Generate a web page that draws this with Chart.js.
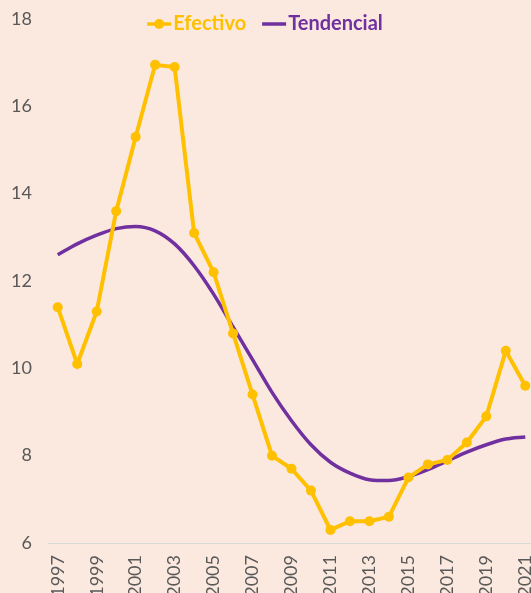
<!DOCTYPE html>
<html>
<head>
<meta charset="utf-8">
<script src="https://cdn.jsdelivr.net/npm/chart.js@4/dist/chart.umd.min.js"></script>
<style>
  html, body { margin: 0; padding: 0; background: #FBE8DE; overflow: hidden; }
  #wrap { position: absolute; left: 0; top: 0; }
</style>
</head>
<body>
<div id="wrap"><canvas id="chart" width="540" height="603"></canvas></div>
<script>
const years = ['1997', '1998', '1999', '2000', '2001', '2002', '2003', '2004', '2005', '2006',
    '2007', '2008', '2009', '2010', '2011', '2012', '2013', '2014', '2015', '2016',
    '2017', '2018', '2019', '2020', '2021'];
const efectivo = [11.4, 10.1, 11.3, 13.6, 15.3, 16.95, 16.9, 13.1, 12.2, 10.8,
    9.4, 8.0, 7.7, 7.2, 6.3, 6.5, 6.5, 6.6, 7.5, 7.8,
    7.9, 8.3, 8.9, 10.4, 9.6];
const tendencial = [12.6, 12.85, 13.05, 13.2, 13.25, 13.15, 12.85, 12.35, 11.7, 10.95,
    10.2, 9.45, 8.8, 8.25, 7.85, 7.6, 7.45, 7.43, 7.52, 7.68,
    7.88, 8.08, 8.25, 8.38, 8.43];

const yellow = '#FFC000';
const purple = '#7030A0';
const tickColor = '#595959';

// legend drawn by hand inside the plot area, like the Excel original
const legendInside = {
    id: 'legendInside',
    afterDraw(chart) {
        const c = chart.ctx;
        const items = chart.data.datasets.map((ds, i) => ({ text: ds.label, color: ds.borderColor, dot: i === 0 }));
        c.save();
        c.font = 'bold 20px Lato';
        c.textBaseline = 'middle';
        const symW = 24, gapSym = 2, gapItem = 16;
        let total = 0;
        items.forEach((it, i) => {
            it.w = c.measureText(it.text).width;
            total += symW + gapSym + it.w + (i > 0 ? gapItem : 0);
        });
        let x = 265 - total / 2;
        const y = 24;
        items.forEach((it, i) => {
            if (i > 0) x += gapItem;
            c.strokeStyle = it.color;
            c.fillStyle = it.color;
            c.lineWidth = 3.5;
            c.beginPath();
            c.moveTo(x, y);
            c.lineTo(x + symW, y);
            c.stroke();
            if (it.dot) {
                c.beginPath();
                c.arc(x + symW / 2, y, 5, 0, Math.PI * 2);
                c.fill();
            }
            x += symW + gapSym;
            c.fillText(it.text, x, y);
            x += it.w;
        });
        c.restore();
    }
};

const ctx = document.getElementById('chart').getContext('2d');
new Chart(ctx, {
    type: 'line',
    data: {
        labels: years,
        datasets: [{
            label: 'Efectivo',
            data: efectivo,
            borderColor: yellow,
            backgroundColor: yellow,
            borderWidth: 4,
            pointRadius: 5,
            pointHoverRadius: 5,
            pointBackgroundColor: yellow,
            pointBorderWidth: 0,
            tension: 0
        }, {
            label: 'Tendencial',
            data: tendencial,
            borderColor: purple,
            backgroundColor: purple,
            borderWidth: 3.5,
            pointRadius: 0,
            cubicInterpolationMode: 'monotone'
        }]
    },
    options: {
        responsive: false,
        animation: false,
        layout: {
            padding: { left: 0, right: 3, top: 19, bottom: 0 }
        },
        scales: {
            x: {
                offset: true,
                grid: { display: false, drawTicks: false },
                border: { display: true, color: '#D9D9D9', width: 1 },
                ticks: {
                    autoSkip: false,
                    maxRotation: 90,
                    minRotation: 90,
                    padding: 12,
                    color: tickColor,
                    font: { family: 'Lato', size: 18 },
                    callback: function (val, i) {
                        return i % 2 === 0 ? this.getLabelForValue(val) : '';
                    }
                },
                afterFit(scale) {
                    scale.height = 60;
                    scale.paddingLeft = 0;
                    scale.paddingRight = 0;
                }
            },
            y: {
                min: 6,
                max: 18,
                grid: { display: false, drawTicks: false },
                border: { display: false },
                ticks: {
                    stepSize: 2,
                    padding: 16,
                    color: tickColor,
                    font: { family: 'Lato', size: 18 }
                },
                afterFit(scale) {
                    scale.width = 48;
                    scale.paddingTop = 0;
                    scale.paddingBottom = 0;
                }
            }
        },
        plugins: {
            tooltip: { enabled: false },
            legend: { display: false }
        }
    },
    plugins: [legendInside]
});
</script>
</body>
</html>
